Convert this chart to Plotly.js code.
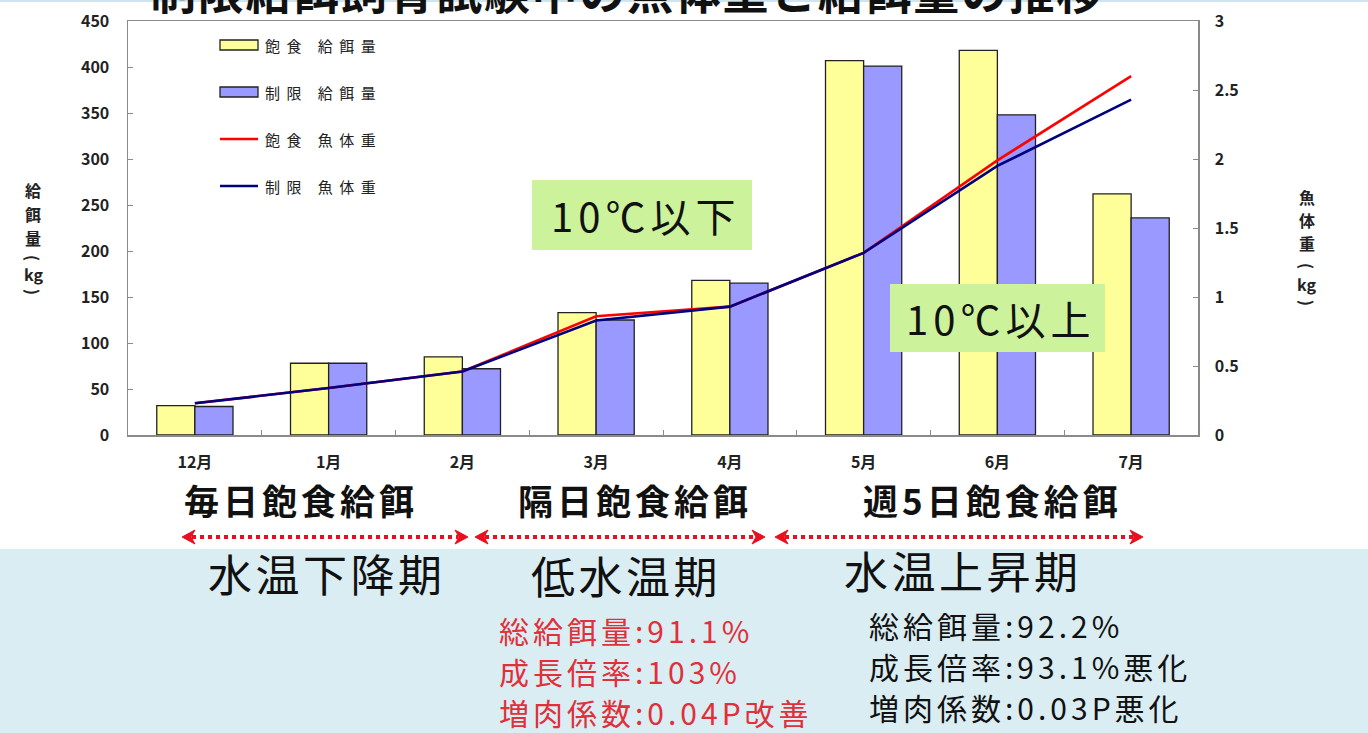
<!DOCTYPE html>
<html>
<head>
<meta charset="utf-8">
<script src="https://cdn.plot.ly/plotly-3.0.1.min.js"></script>
<style>
  html, body { margin: 0; padding: 0; background: #ffffff; }
  #chart { width: 1368px; height: 733px; }
</style>
</head>
<body>
<div id="chart"></div>
<script>
// Monthly feed amount (kg) and fish body weight (kg), satiation vs. restricted feeding
const months = ['12月', '1月', '2月', '3月', '4月', '5月', '6月', '7月'];
const feedFull = [32, 78, 85, 133, 168, 407, 418, 262];
const feedLimited = [31, 78, 72, 125, 165, 401, 348, 236];
const weightFull = [0.23, 0.34, 0.46, 0.86, 0.93, 1.32, 1.99, 2.60];
const weightLimited = [0.23, 0.34, 0.46, 0.83, 0.93, 1.32, 1.95, 2.43];
const seriesNames = ['飽食 給餌量', '制限 給餌量', '飽食 魚体重', '制限 魚体重'];

const leftTicks = [0, 50, 100, 150, 200, 250, 300, 350, 400, 450];
const rightTicks = [0, 0.5, 1, 1.5, 2, 2.5, 3];

const titleText = '制限給餌飼育試験中の魚体重と給餌量の推移';
const leftTitleChars = ['給', '餌', '量', '(', 'kg', ')'];
const rightTitleChars = ['魚', '体', '重', '(', 'kg', ')'];
const feedingLabels = ['毎日飽食給餌', '隔日飽食給餌', '週5日飽食給餌'];
const periodLabels = ['水温下降期', '低水温期', '水温上昇期'];
const tempLabels = ['10℃以下', '10℃以上'];
const lowTempNotes = ['総給餌量:91.1%', '成長倍率:103%', '増肉係数:0.04P改善'];
const riseNotes = ['総給餌量:92.2%', '成長倍率:93.1%悪化', '増肉係数:0.03P悪化'];

// plot area in page pixels
const W = 1368, H = 733;
const L = 128, R = 1198, T = 21, B = 435;
const px = x => (x - L) / (R - L);
const py = y => (B - y) / (B - T);

const FONT = "'Noto Sans CJK JP', 'Noto Sans', sans-serif";
const YELLOW = '#ffff99';
const BLUE = '#9999ff';
const RED = '#ff0000';
const NAVY = '#000080';
const ARROW_RED = '#e8101e';

const traces = [
  {
    type: 'bar', x: months, y: feedFull, name: seriesNames[0],
    marker: { color: YELLOW, line: { color: '#222222', width: 1.3 } },
    offsetgroup: 'a', showlegend: false, hoverinfo: 'x+y'
  },
  {
    type: 'bar', x: months, y: feedLimited, name: seriesNames[1],
    marker: { color: BLUE, line: { color: '#222222', width: 1.3 } },
    offsetgroup: 'b', showlegend: false, hoverinfo: 'x+y'
  },
  {
    type: 'scatter', mode: 'lines', x: months, y: weightFull, name: seriesNames[2],
    yaxis: 'y2', line: { color: RED, width: 2.6 }, showlegend: false
  },
  {
    type: 'scatter', mode: 'lines', x: months, y: weightLimited, name: seriesNames[3],
    yaxis: 'y2', line: { color: NAVY, width: 2.6 }, showlegend: false
  }
];

const shapes = [];
const annotations = [];
const spacing = [];   // [annotation index, letter-spacing px]

// left-aligned text label with optional letter spacing
function label(x, y, text, font, ls) {
  if (ls) spacing.push([annotations.length, ls]);
  annotations.push({ xref: 'paper', yref: 'paper', x: px(x), y: py(y),
    text: text, showarrow: false, xanchor: 'left', yanchor: 'middle', align: 'left',
    font: font });
}

// light blue band behind the summary text
shapes.push({ type: 'rect', xref: 'paper', yref: 'paper', layer: 'below',
  x0: px(0), x1: px(W), y0: py(549), y1: py(H + 2),
  fillcolor: '#daedf3', line: { width: 0 } });
// thin band on the top edge
shapes.push({ type: 'rect', xref: 'paper', yref: 'paper', layer: 'below',
  x0: px(0), x1: px(W), y0: py(0), y1: py(2),
  fillcolor: '#cfe4ee', line: { width: 0 } });

// title (runs off the top of the page)
label(148, -11, titleText, { family: FONT, size: 46, color: '#111111', weight: 'bold' }, 1.7);

// custom legend
const legendRows = [45, 92, 139, 186];
[[YELLOW, 'rect'], [BLUE, 'rect'], [RED, 'line'], [NAVY, 'line']].forEach((d, i) => {
  const yc = legendRows[i];
  if (d[1] === 'rect') {
    shapes.push({ type: 'rect', xref: 'paper', yref: 'paper', layer: 'above',
      x0: px(220), x1: px(258), y0: py(yc - 5), y1: py(yc + 5),
      fillcolor: d[0], line: { color: '#222222', width: 1.3 } });
  } else {
    shapes.push({ type: 'line', xref: 'paper', yref: 'paper', layer: 'above',
      x0: px(220), x1: px(258), y0: py(yc), y1: py(yc),
      line: { color: d[0], width: 2.6 } });
  }
  label(263, yc, seriesNames[i], { family: FONT, size: 15, color: '#222222' }, 6.5);
});

// vertical axis titles, one glyph per row; parentheses turned sideways
function stackedTitle(chars, x, ys) {
  chars.forEach((c, i) => {
    const paren = (c === '(' || c === ')');
    annotations.push({ xref: 'paper', yref: 'paper', x: px(x), y: py(ys[i]),
      text: c, showarrow: false, xanchor: 'center', yanchor: 'middle',
      textangle: paren ? 90 : 0,
      font: { family: FONT, size: 16, color: '#222222', weight: 'bold' } });
  });
}
stackedTitle(leftTitleChars, 33, [190, 214, 238, 258, 274, 292]);
stackedTitle(rightTitleChars, 1307, [197, 220, 243, 266, 284, 303]);

// temperature boxes
const tempBoxes = [[532, 752, 180, 250], [890, 1105, 284, 352]];
const tempTextX = [549, 904];
tempBoxes.forEach((b, i) => {
  shapes.push({ type: 'rect', xref: 'paper', yref: 'paper', layer: 'above',
    x0: px(b[0]), x1: px(b[1]), y0: py(b[3]), y1: py(b[2]),
    fillcolor: '#ccf29c', line: { width: 0 } });
  label(tempTextX[i], (b[2] + b[3]) / 2, tempLabels[i],
    { family: FONT, size: 40, color: '#111111' }, 5);
});

// feeding regime labels
const feedingX = [182, 516, 861];
feedingLabels.forEach((t, i) => {
  label(feedingX[i], 499, t, { family: FONT, size: 35, color: '#111111', weight: 'bold' }, 4);
});

// dotted period arrows
const arrowY = 537;
const arrowSpans = [[182, 468], [475, 765], [775, 1143]];
const head = (tip, dir) => {
  // dir = -1 points left, +1 points right
  const back = tip - dir * 13, notch = tip - dir * 9;
  return 'M' + px(tip) + ',' + py(arrowY) +
    ' L' + px(back) + ',' + py(arrowY - 7) +
    ' L' + px(notch) + ',' + py(arrowY) +
    ' L' + px(back) + ',' + py(arrowY + 7) + ' Z';
};
arrowSpans.forEach(s => {
  shapes.push({ type: 'line', xref: 'paper', yref: 'paper', layer: 'above',
    x0: px(s[0] + 10), x1: px(s[1] - 10), y0: py(arrowY), y1: py(arrowY),
    line: { color: ARROW_RED, width: 4, dash: 'dot' } });
  shapes.push({ type: 'path', xref: 'paper', yref: 'paper', layer: 'above',
    path: head(s[0], -1), fillcolor: ARROW_RED, line: { color: ARROW_RED, width: 1 } });
  shapes.push({ type: 'path', xref: 'paper', yref: 'paper', layer: 'above',
    path: head(s[1], 1), fillcolor: ARROW_RED, line: { color: ARROW_RED, width: 1 } });
});

// water temperature period labels
const periodX = [206, 529, 842];
const periodY = [573, 575, 570];
periodLabels.forEach((t, i) => {
  label(periodX[i], periodY[i], t, { family: FONT, size: 44, color: '#111111' }, 3.5);
});

// summary notes
const lowY = [630, 671, 712];
lowTempNotes.forEach((t, i) => {
  label(497, lowY[i], t, { family: FONT, size: 30, color: '#e0303a' }, 4);
});
const riseY = [625, 666, 707];
riseNotes.forEach((t, i) => {
  label(867, riseY[i], t, { family: FONT, size: 30, color: '#111111' }, 4);
});

// letter spacing for the wide slide lettering
const css = spacing.map(s =>
  '#chart g.annotation[data-index="' + s[0] + '"] text { letter-spacing: ' + s[1] + 'px; }'
).join('\n');
const styleEl = document.createElement('style');
styleEl.textContent = css;
document.head.appendChild(styleEl);

const tickFont = { family: FONT, size: 16, color: '#222222', weight: 'bold' };

const layout = {
  width: W, height: H,
  margin: { l: L, r: W - R, t: T, b: H - B, pad: 0 },
  paper_bgcolor: '#ffffff',
  plot_bgcolor: '#ffffff',
  showlegend: false,
  barmode: 'group',
  bargap: 0.43,
  bargroupgap: 0,
  xaxis: {
    type: 'category', range: [-0.5, 7.5],
    showline: true, linecolor: '#8a8a8a', linewidth: 1.5, mirror: true,
    ticks: 'inside', tickson: 'boundaries', ticklen: 5, tickcolor: '#8a8a8a',
    tickfont: tickFont, ticklabelstandoff: 12,
    showgrid: false, zeroline: false, fixedrange: true
  },
  yaxis: {
    range: [0, 450], tickvals: leftTicks, ticktext: leftTicks.map(String),
    showline: true, linecolor: '#8a8a8a', linewidth: 1.5,
    ticks: 'inside', ticklen: 5, tickcolor: '#8a8a8a',
    tickfont: tickFont, ticklabelstandoff: 14,
    showgrid: false, zeroline: false, fixedrange: true
  },
  yaxis2: {
    overlaying: 'y', side: 'right', range: [0, 3],
    tickvals: rightTicks, ticktext: rightTicks.map(String),
    showline: true, linecolor: '#8a8a8a', linewidth: 1.5,
    ticks: 'inside', ticklen: 5, tickcolor: '#8a8a8a',
    tickfont: tickFont, ticklabelstandoff: 12,
    showgrid: false, zeroline: false, fixedrange: true
  },
  shapes: shapes,
  annotations: annotations
};

Plotly.newPlot('chart', traces, layout, { displayModeBar: false, staticPlot: true });
</script>
</body>
</html>
